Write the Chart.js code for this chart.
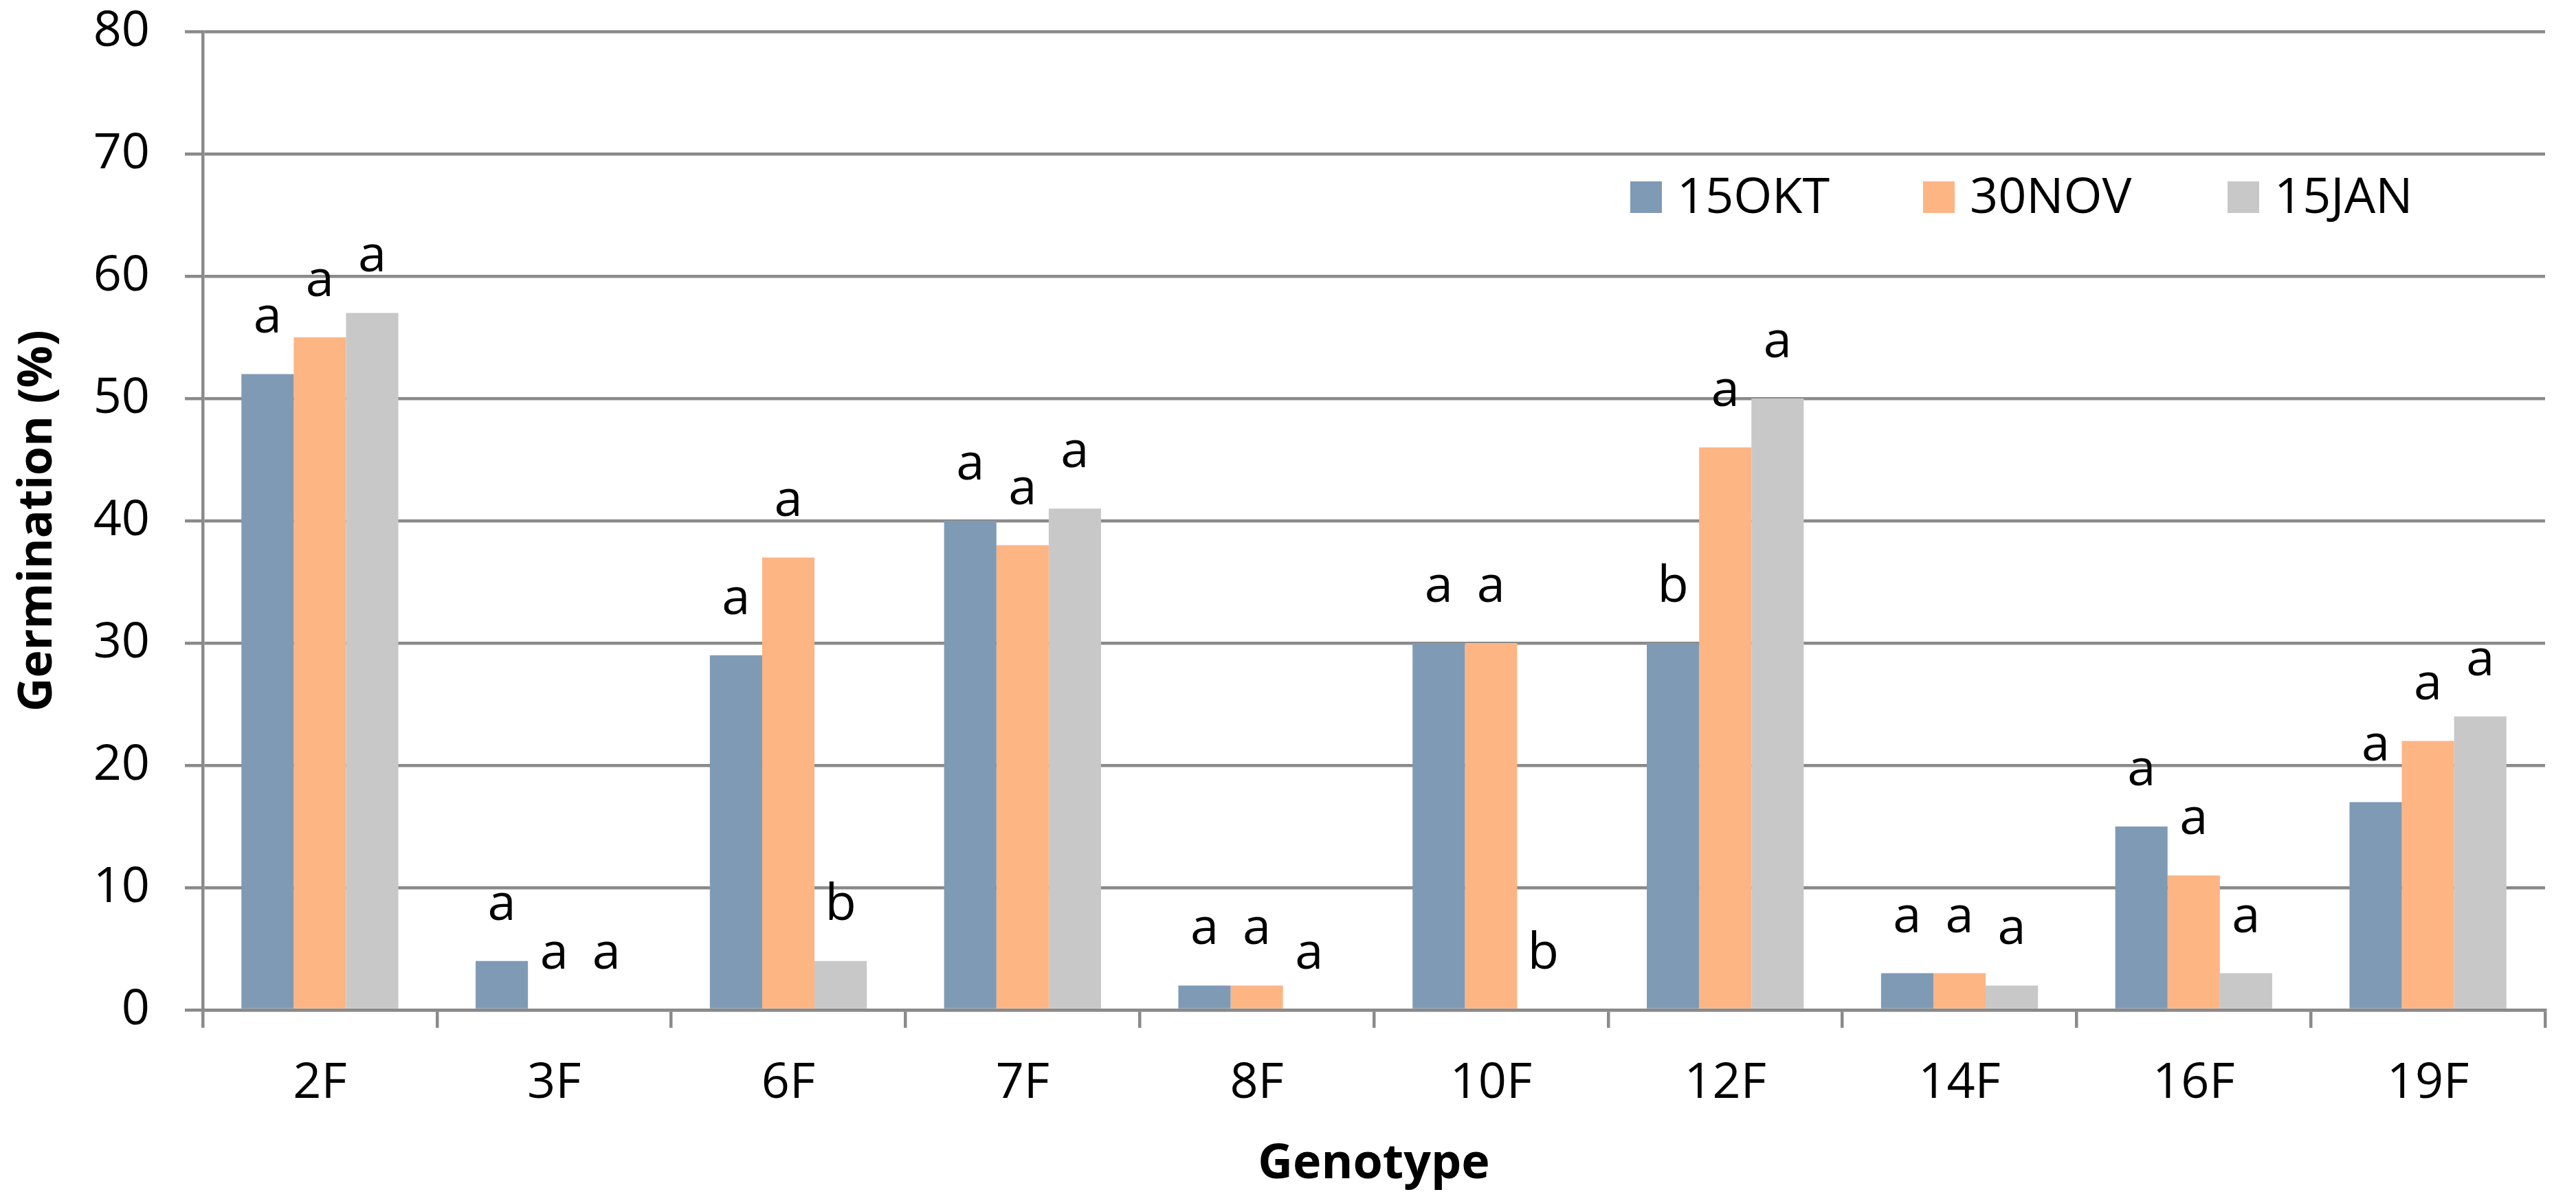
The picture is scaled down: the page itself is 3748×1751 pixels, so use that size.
<!DOCTYPE html>
<html><head><meta charset="utf-8">
<script src="https://cdn.jsdelivr.net/npm/chart.js@4.4.0/dist/chart.umd.min.js"></script>
<style>html,body{margin:0;padding:0;background:#fff;overflow:hidden}</style>
</head><body>
<canvas id="c" width="3748" height="1751"></canvas>
<script>
const categories = ['2F','3F','6F','7F','8F','10F','12F','14F','16F','19F'];
const seriesNames = ['15OKT','30NOV','15JAN'];
const okt = [52, 4, 29, 40, 2, 30, 30, 3, 15, 17];
const nov = [55, 0, 37, 38, 2, 30, 46, 3, 11, 22];
const jan = [57, 0, 4, 41, 0, 0, 50, 2, 3, 24];
const oktLetters = ['a','a','a','a','a','a','b','a','a','a'];
const novLetters = ['a','a','a','a','a','a','a','a','a','a'];
const janLetters = ['a','a','b','a','a','b','a','a','a','a'];
const yTickValues = [0, 10, 20, 30, 40, 50, 60, 70, 80];
const xTitle = 'Genotype';
const yTitle = 'Germination (%)';

const colors = ['#7F9AB5', '#FDB584', '#C8C8C8'];
const gridColor = '#8a8a8a';
const FONT = "'Open Sans', 'Liberation Sans', sans-serif";
const letters = [oktLetters, novLetters, janLetters];

const letterPlugin = {
  id: 'letters',
  afterDatasetsDraw(chart) {
    const ctx = chart.ctx;
    ctx.save();
    ctx.font = '74px ' + FONT;
    ctx.fillStyle = '#000';
    ctx.textAlign = 'center';
    ctx.textBaseline = 'alphabetic';
    chart.data.datasets.forEach((ds, d) => {
      const meta = chart.getDatasetMeta(d);
      meta.data.forEach((el, i) => {
        ctx.fillText(letters[d][i], el.x, el.y - 60);
      });
    });
    ctx.restore();
  }
};

const legendPlugin = {
  id: 'customLegend',
  afterDraw(chart) {
    const ctx = chart.ctx;
    const boxX = [2372, 2798, 3241];
    const cy = 287, bs = 46;
    ctx.save();
    ctx.font = '72px ' + FONT;
    ctx.textBaseline = 'middle';
    ctx.textAlign = 'left';
    chart.data.datasets.forEach((ds, d) => {
      ctx.fillStyle = ds.backgroundColor;
      ctx.fillRect(boxX[d], cy - bs / 2, bs, bs);
      ctx.fillStyle = '#000';
      ctx.fillText(ds.label, boxX[d] + bs + 22, cy + 2);
    });
    ctx.restore();
  }
};

Chart.defaults.font.family = FONT;
Chart.defaults.color = '#000';

new Chart(document.getElementById('c'), {
  type: 'bar',
  data: {
    labels: categories,
    datasets: [
      { label: seriesNames[0], data: okt, backgroundColor: colors[0] },
      { label: seriesNames[1], data: nov, backgroundColor: colors[1] },
      { label: seriesNames[2], data: jan, backgroundColor: colors[2] }
    ]
  },
  options: {
    responsive: false,
    animation: false,
    devicePixelRatio: 1,
    layout: { padding: { left: 0, right: 45, top: 46, bottom: 0 } },
    datasets: { bar: { categoryPercentage: 0.67, barPercentage: 1.0, borderWidth: 0 } },
    plugins: { legend: { display: false }, tooltip: { enabled: false } },
    scales: {
      x: {
        grid: { display: true, drawOnChartArea: false, offset: true, color: gridColor, lineWidth: 4.5, tickLength: 26 },
        border: { color: gridColor, width: 4.5 },
        ticks: { font: { size: 72 }, padding: 38, autoSkip: false, maxRotation: 0 },
        title: { display: true, text: xTitle, font: { size: 70, weight: 'bold' }, padding: { top: 0, bottom: 14 } },
        afterFit(s) { s.height = 281; s.paddingLeft = 0; s.paddingRight = 0; }
      },
      y: {
        min: 0, max: 80,
        afterBuildTicks(s) { s.ticks = yTickValues.map(v => ({ value: v })); },
        grid: { color: gridColor, lineWidth: 4.5, tickLength: 26 },
        border: { color: gridColor, width: 4.5 },
        ticks: { font: { size: 72 }, padding: 51 },
        title: { display: true, text: yTitle, font: { size: 68, weight: 'bold' }, padding: { top: 15, bottom: 0 } },
        afterFit(s) { s.width = 295; s.paddingTop = 0; s.paddingBottom = 0; }
      }
    }
  },
  plugins: [letterPlugin, legendPlugin]
});
</script>
</body></html>
